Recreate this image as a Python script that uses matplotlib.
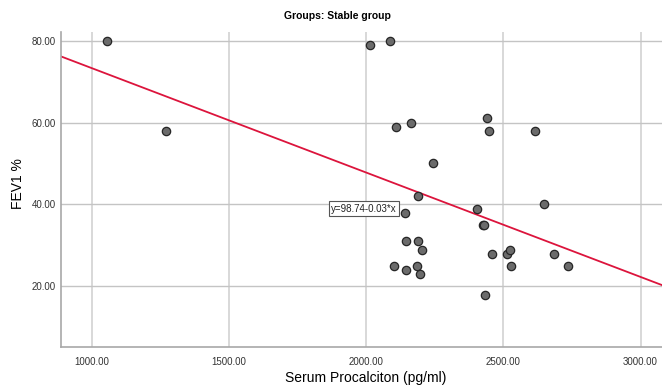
import matplotlib
matplotlib.use("Agg")
import matplotlib.pyplot as plt
import numpy as np

# Data
procalcitonin = [1056, 1271, 2015, 2088, 2110, 2163, 2440, 2448, 2615, 2243,
                 2190, 2403, 2140, 2425, 2430, 2647, 2143, 2189, 2203, 2102,
                 2144, 2186, 2194, 2459, 2514, 2525, 2527, 2684, 2735, 2431]
fev1 = [80, 58, 79, 80, 59, 60, 61, 58, 58, 50,
        42, 39, 38, 35, 35, 40, 31, 31, 29, 25,
        24, 25, 23, 28, 28, 29, 25, 28, 25, 18]
fit_intercept = 98.74
fit_slope = -0.02548
fit_label = "y=98.74-0.03*x"
xticks = [1000, 1500, 2000, 2500, 3000]
yticks = [20, 40, 60, 80]
xlim = (887, 3078)
ylim = (5.2, 82.2)

fam = ['Liberation Sans', 'DejaVu Sans']
fig = plt.figure(figsize=(6.62, 3.88), dpi=100)
ax_h = (347 - 31.6) / 388
ax = fig.add_axes([61/662, 1-347/388, 601/662, ax_h])

ax.set_xlim(*xlim)
ax.set_ylim(*ylim)
ax.set_xticks(xticks)
ax.set_yticks(yticks)
ax.set_xticklabels([f"{v:.2f}" for v in xticks], fontsize=7, color='#333333', family=fam)
ax.set_yticklabels([f"{v:.2f}" for v in yticks], fontsize=7, color='#333333', family=fam)
ax.tick_params(axis='x', length=0, pad=7)
ax.tick_params(axis='y', length=0, pad=4)

for v in xticks:
    ax.axvline(v, color='#d6d6d6', lw=1.3, zorder=1)
for v in yticks:
    ax.axhline(v, color='#c4c4c4', lw=1.0, zorder=1)

for s in ['top', 'right']:
    ax.spines[s].set_visible(False)
for s in ['left', 'bottom']:
    ax.spines[s].set_color('#a8a8a8')
    ax.spines[s].set_linewidth(1.2)

xs = np.array(xlim)
ax.plot(xs, fit_intercept + fit_slope * xs, color='#dc143c', lw=1.3, zorder=2)

ax.scatter(procalcitonin, fev1, s=36, facecolor='#6b6b6b', edgecolor='#262626',
           linewidth=0.9, zorder=3)

ax.text(1991, 39.0, fit_label, fontsize=7, family=fam, ha='center', va='center',
        color='#222222', zorder=4,
        bbox=dict(boxstyle='square,pad=0.25', facecolor='white', edgecolor='#555555', lw=0.8))

ax.set_xlabel("Serum Procalciton (pg/ml)", fontsize=10, family=fam, va='center')
ax.xaxis.set_label_coords((366 - 61) / 601, (347 - 378) / (ax_h * 388))
ax.set_ylabel("FEV1 %", fontsize=10, family=fam, va='center')
ax.yaxis.set_label_coords((18 - 61) / 601, (347 - 184) / (ax_h * 388))

fig.text(337/662, 1-16/388, "Groups: Stable group", fontsize=7.5, fontweight='bold',
         family=['Liberation Sans Narrow', 'Liberation Sans', 'DejaVu Sans'],
         ha='center', va='center')

fig.savefig("out.png", dpi=100)
